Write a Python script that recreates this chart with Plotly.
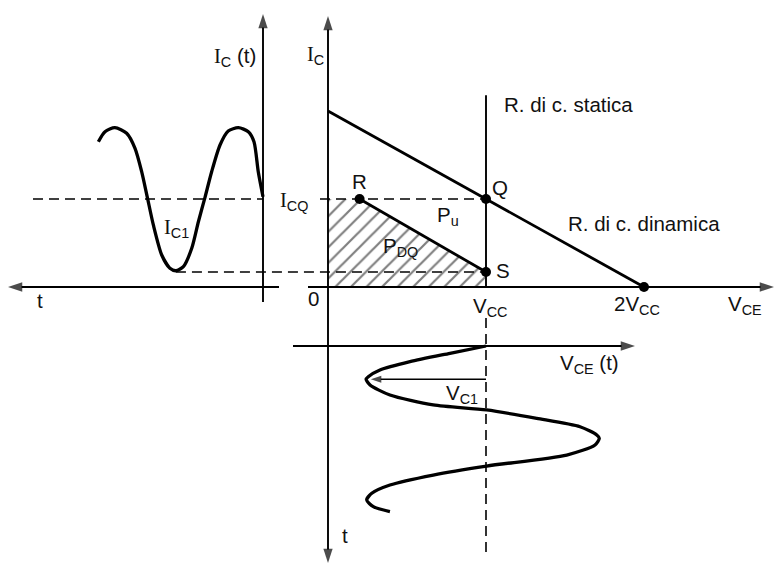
import plotly.graph_objects as go

# ---------------- data (in units of V_CC horizontally, I_CQ vertically) ----------------
V_CC = 1.0
V_2CC = 2.0
I_CQ = 1.0

# dynamic load line (through Q, from I axis to 2V_CC)
load_v = [0.0, 2.0]
load_i = [2.0, 0.0]

# static load line (vertical at V_CC)
static_v = [1.0, 1.0]
static_i = [0.0, 2.18]

# characteristic points
pt_names = ["R", "Q", "S", "2VCC"]
pt_v = [0.2, 1.0, 1.0, 2.0]
pt_i = [1.0, 1.0, 0.17, 0.0]

# hatched region P_DQ (under R-S segment)
hatch_v = [0.0, 0.0, 0.2, 1.0, 1.0, 0.0]
hatch_i = [0.0, 1.0, 1.0, 0.17, 0.0, 0.0]

# I_C(t): time measured leftwards from the I_C(t) axis
ic_time = [0.0, 0.030, 0.057, 0.093, 0.156, 0.220, 0.272, 0.325, 0.367, 0.409, 0.451,
           0.504, 0.551, 0.589, 0.641, 0.694, 0.732, 0.768, 0.810, 0.863, 0.937, 1.0, 1.042]
ic_vals = [1.026, 1.310, 1.651, 1.765, 1.810, 1.773, 1.614, 1.310, 1.019, 0.742, 0.440,
           0.231, 0.185, 0.213, 0.364, 0.705, 1.019, 1.311, 1.576, 1.747, 1.810, 1.765, 1.651]

# V_CE(t): time measured downwards from the V_CE(t) axis
vce_time = [0.0, 0.083, 0.178, 0.273, 0.349, 0.378, 0.443, 0.557, 0.670, 0.727, 0.822,
            0.917, 1.011, 1.049, 1.125, 1.239, 1.364, 1.466, 1.580, 1.674, 1.750, 1.826, 1.883]
vce_vals = [1.0, 0.772, 0.519, 0.329, 0.255, 0.241, 0.266, 0.392, 0.666, 1.004, 1.321,
            1.595, 1.701, 1.717, 1.690, 1.511, 1.004, 0.666, 0.392, 0.277, 0.245, 0.287, 0.392]

V_C1_level_t = 0.378
V_C1_min = 0.241

# ---------------- frame / layout geometry ----------------
W, H = 775, 565
X0_PX, Y0_PX = 328, 287
SX, SY = 158.0, 88.0
x_rng = [-X0_PX / SX, (W - X0_PX) / SX]
y_rng = [(Y0_PX - H) / SY, Y0_PX / SY]


def px2x(p):
    return (p - X0_PX) / SX


def px2y(p):
    return (Y0_PX - p) / SY


X_ICT = px2x(263)   # position of the I_C(t) axis
Y_VCET = px2y(346)  # position of the V_CE(t) axis

BLACK = "#000000"
TXT = "#111111"

fig = go.Figure()

# hatched area
fig.add_trace(go.Scatter(
    x=hatch_v, y=hatch_i, mode="none", fill="toself",
    fillcolor="rgba(255,255,255,0)",
    fillpattern=dict(shape="/", fgcolor="#000000", bgcolor="rgba(255,255,255,0)",
                     size=11, solidity=0.2),
    hoverinfo="skip", showlegend=False))


def arrow_line(xs, ys, width=1.9, size=15):
    fig.add_trace(go.Scatter(
        x=xs, y=ys, mode="lines+markers",
        line=dict(color=BLACK, width=width),
        marker=dict(symbol="arrow", size=[0] * (len(xs) - 1) + [size],
                    angleref="previous", color=BLACK, line=dict(width=0)),
        hoverinfo="skip", showlegend=False))


def plain_line(xs, ys, width=1.6, dash="solid", color=BLACK, shape="linear", smoothing=1.0):
    fig.add_trace(go.Scatter(
        x=xs, y=ys, mode="lines",
        line=dict(color=color, width=width, dash=dash, shape=shape, smoothing=smoothing),
        hoverinfo="skip", showlegend=False))


# axes
arrow_line([0, 0], [0, px2y(16)])                 # I_C up
arrow_line([0, 0], [0, px2y(563)])                # t down
arrow_line([px2x(308), px2x(774)], [0, 0])        # V_CE right
arrow_line([px2x(279), px2x(8)], [0, 0])          # t left
arrow_line([X_ICT, X_ICT], [px2y(302), px2y(14)])  # I_C(t) up
arrow_line([px2x(293), px2x(635)], [Y_VCET, Y_VCET])  # V_CE(t) right

# dashed guide lines
DASH = "10px,6px"
plain_line([px2x(33), X_ICT], [I_CQ, I_CQ], width=1.6, dash=DASH)
plain_line([px2x(320), pt_v[1]], [I_CQ, I_CQ], width=1.6, dash=DASH)
plain_line([X_ICT - ic_time[12], pt_v[2]], [pt_i[2], pt_i[2]], width=1.6, dash=DASH)
plain_line([V_CC, V_CC], [px2y(318), px2y(556)], width=1.6, dash=DASH)

# static load line
plain_line(static_v, static_i, width=1.9)
# dynamic load line
plain_line(load_v, load_i, width=2.8)
# R-S segment
plain_line([pt_v[0], pt_v[2]], [pt_i[0], pt_i[2]], width=2.8)

# I_C(t) curve
plain_line([X_ICT - t for t in ic_time], ic_vals, width=3.3, shape="spline", smoothing=0.7)
# V_CE(t) curve
plain_line(vce_vals, [Y_VCET - t for t in vce_time], width=3.3, shape="spline", smoothing=0.7)

# V_C1 amplitude arrow
arrow_line([V_CC, V_C1_min + 0.03], [Y_VCET - V_C1_level_t] * 2, width=1.3, size=11)

# points
fig.add_trace(go.Scatter(x=pt_v, y=pt_i, mode="markers",
                         marker=dict(color=BLACK, size=10),
                         hoverinfo="skip", showlegend=False))

SERIF_I = '<span style="font-family:Liberation Serif">I</span>'

labels = [
    (SERIF_I + "<sub>C</sub> (t)", 235, 57, "center"),
    (SERIF_I + "<sub>C</sub>", 315, 55, "center"),
    ("R. di c. statica", 502, 104, "left"),
    ("Q", 500, 187, "center"),
    (SERIF_I + "<sub>CQ</sub>", 294, 201, "center"),
    ("R", 359, 181, "center"),
    ("P<sub>u</sub>", 448, 216, "center"),
    ("P<sub>DQ</sub>", 400, 247, "center"),
    ("S", 503, 270, "center"),
    ("R. di c. dinamica", 566, 223, "left"),
    ("0", 313, 298, "center"),
    ("V<sub>CC</sub>", 490, 307, "center"),
    ("2V<sub>CC</sub>", 637, 305, "center"),
    ("V<sub>CE</sub>", 745, 305, "center"),
    ("t", 40, 300, "center"),
    (SERIF_I + "<sub>C1</sub>", 176, 228, "center"),
    ("V<sub>CE</sub> (t)", 589, 364, "center"),
    ("V<sub>C1</sub>", 462, 394, "center"),
    ("t", 345, 535, "center"),
]

for txt, lx, ly, anchor in labels:
    fig.add_annotation(x=px2x(lx), y=px2y(ly), xref="x", yref="y", text=txt,
                       showarrow=False, xanchor=anchor, yanchor="middle",
                       font=dict(family="Liberation Sans, Arial, sans-serif", size=20.5, color=TXT))

fig.update_xaxes(range=x_rng, visible=False, showgrid=False, zeroline=False, fixedrange=True)
fig.update_yaxes(range=y_rng, visible=False, showgrid=False, zeroline=False, fixedrange=True)
fig.update_layout(width=W, height=H, margin=dict(l=0, r=0, t=0, b=0),
                  paper_bgcolor="white", plot_bgcolor="white", showlegend=False)

fig.write_html("out.html", config={"displayModeBar": False},
               post_script="document.body.style.margin='0';")
